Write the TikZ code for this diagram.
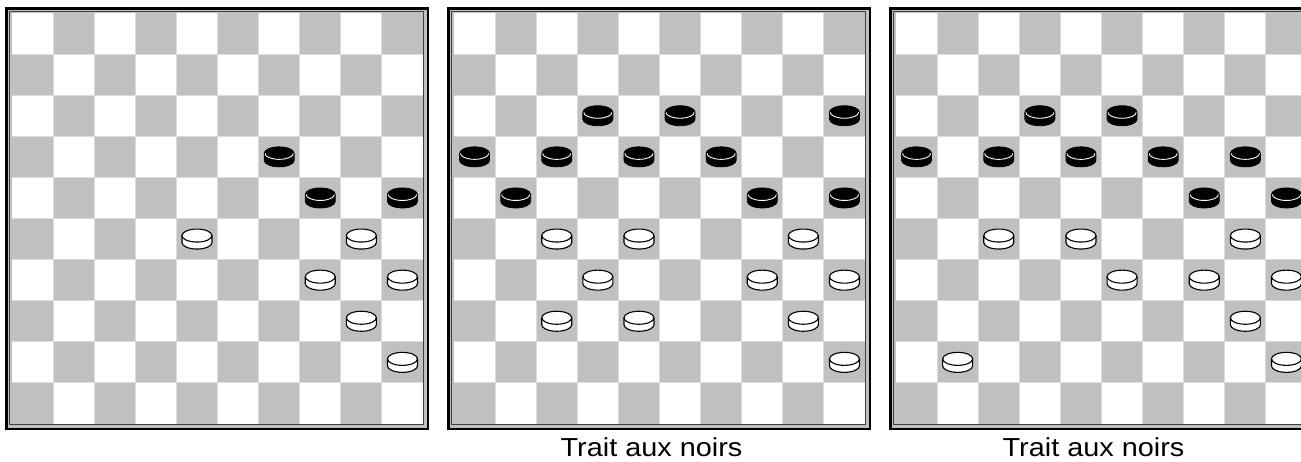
\documentclass[tikz,border=0pt]{standalone}
\usepackage{fontspec}
\setmainfont{Liberation Sans}
\definecolor{sq}{HTML}{C0C0C0}
\definecolor{gridc}{HTML}{DCDCDC}
\definecolor{frameline}{HTML}{404040}
\tikzset{
  blackman/.pic={
    \fill[black] (-15,-3.5) -- (-15,3.5) arc[start angle=180,end angle=360,x radius=15pt,y radius=6.5pt] -- (15,-3.5) arc[start angle=0,end angle=180,x radius=15pt,y radius=6.5pt] -- cycle;
    \draw[white,line width=0.9pt] (-14.2,-3.5) arc[start angle=180,end angle=360,x radius=14.2pt,y radius=6pt];
    \draw[black,line width=0.8pt] (-15,-3.5) -- (-15,3.5) arc[start angle=180,end angle=360,x radius=15pt,y radius=6.5pt] -- (15,-3.5) arc[start angle=0,end angle=180,x radius=15pt,y radius=6.5pt] -- cycle;
  },
  whiteman/.pic={
    \filldraw[fill=white,draw=black,line width=1.1pt] (-15,-3.5) -- (-15,3.5) arc[start angle=180,end angle=360,x radius=15pt,y radius=6.5pt] -- (15,-3.5) arc[start angle=0,end angle=180,x radius=15pt,y radius=6.5pt] -- cycle;
    \draw[black,line width=1.1pt] (-15,-3.5) arc[start angle=180,end angle=360,x radius=15pt,y radius=6.5pt];
  },
  caption/.style={font=\fontsize{26}{30}\selectfont, anchor=base, inner sep=0pt}
}
\begin{document}
\begin{tikzpicture}[x=1pt,y=-1pt]
\useasboundingbox (0,0) rectangle (1301,461);
\clip (0,0) rectangle (1301,461);
\fill[white] (0,0) rectangle (1301,461);
\foreach \k in {0,1,2} {
  \pgfmathsetmacro\ox{12+442*\k}
  % frame
  \fill[sq] (\ox-7,7) rectangle (\ox+417,430);
  \draw[black,line width=2.5pt] (\ox-5.75,8.25) rectangle (\ox+415.75,428.75);
  \draw[frameline,line width=1pt] (\ox-2.5,11.5) rectangle (\ox+411.5,424.5);
  % cells
  \fill[white] (\ox,13) rectangle (\ox+411,424);
  \foreach \r in {0,...,9} {
    \foreach \c in {0,...,9} {
      \pgfmathtruncatemacro\p{mod(\r+\c,2)}
      \ifnum\p=1
        \fill[sq] ({\ox+41.1*\c},{13+41.1*\r}) rectangle ++(41.1,41.1);
      \fi
    }
  }
  \foreach \i in {1,...,9} {
    \draw[gridc,line width=0.9pt] ({\ox+41.1*\i},13) -- ({\ox+41.1*\i},424);
    \draw[gridc,line width=0.9pt] (\ox,{13+41.1*\i}) -- (\ox+411,{13+41.1*\i});
  }
}
% board 1
\foreach \c/\r in {6/3,7/4,9/4}
  \pic at ({12+41.1*(\c+0.5)},{13+41.1*(\r+0.5)}) {blackman};
\foreach \c/\r in {4/5,8/5,7/6,9/6,8/7,9/8}
  \pic at ({12+41.1*(\c+0.5)},{13+41.1*(\r+0.5)}) {whiteman};
% board 2
\foreach \c/\r in {3/2,5/2,9/2,0/3,2/3,4/3,6/3,1/4,7/4,9/4}
  \pic at ({454+41.1*(\c+0.5)},{13+41.1*(\r+0.5)}) {blackman};
\foreach \c/\r in {2/5,4/5,8/5,3/6,7/6,9/6,2/7,4/7,8/7,9/8}
  \pic at ({454+41.1*(\c+0.5)},{13+41.1*(\r+0.5)}) {whiteman};
% board 3
\foreach \c/\r in {3/2,5/2,0/3,2/3,4/3,6/3,8/3,7/4,9/4}
  \pic at ({896+41.1*(\c+0.5)},{13+41.1*(\r+0.5)}) {blackman};
\foreach \c/\r in {2/5,4/5,8/5,5/6,7/6,9/6,8/7,1/8,9/8}
  \pic at ({896+41.1*(\c+0.5)},{13+41.1*(\r+0.5)}) {whiteman};
% captions
\node[caption] (cap2) at (651.5,456.5) {\scalebox{1.11}[1]{Trait aux noirs}};
\node[caption] (cap3) at (1093.5,456.5) {\scalebox{1.11}[1]{Trait aux noirs}};
\end{tikzpicture}
\end{document}
